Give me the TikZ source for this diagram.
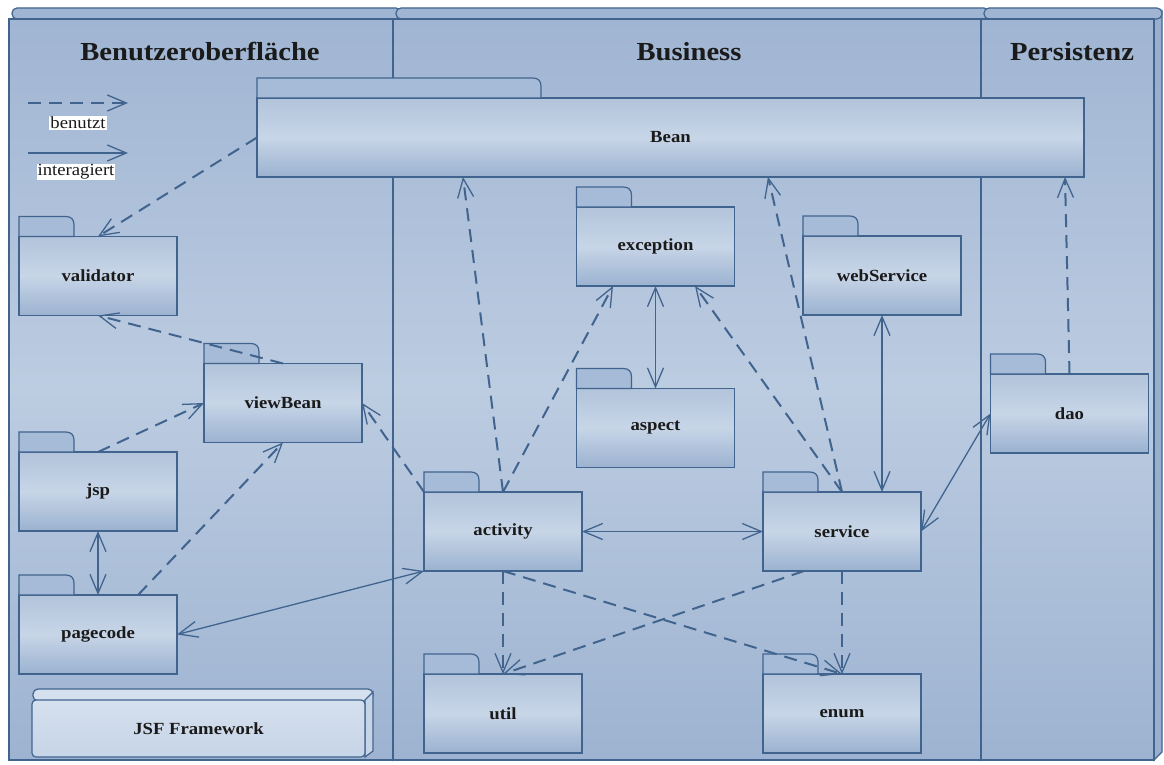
\documentclass[tikz,border=0pt]{standalone}
\usepackage{fontspec}
\setmainfont{Liberation Serif}[FakeStretch=1.1]
\usetikzlibrary{arrows.meta,calc}

\definecolor{edge}{HTML}{41648F}
\definecolor{laneTop}{HTML}{A0B5D3}
\definecolor{laneMid}{HTML}{BCCCE1}
\definecolor{laneBot}{HTML}{9DB3D1}
\definecolor{laneSide}{HTML}{98AFCE}
\definecolor{pkgTop}{HTML}{B2C4DB}
\definecolor{pkgMid}{HTML}{C7D5E7}
\definecolor{pkgBot}{HTML}{9BB2D0}
\definecolor{tabFill}{HTML}{A6BBD7}
\definecolor{jsfTop}{HTML}{D5E0EE}
\definecolor{jsfBot}{HTML}{C6D4E7}
\definecolor{ink}{HTML}{1A1A1A}

\tikzset{
  pkg/.style={draw=edge, line width=1.2pt, top color=pkgTop, bottom color=pkgBot,
    middle color=pkgMid, minimum width=158pt, minimum height=79pt,
    inner sep=0pt, outer sep=0pt, text=ink,
    font=\bfseries\fontsize{17}{20}\selectfont},
  pkgtab/.style={draw=edge, line width=1.2pt, fill=tabFill},
  uses/.style={draw=edge, line width=2pt, dash pattern=on 13pt off 8pt,
    -{Straight Barb[length=19pt,width=16pt,line width=1.3pt]}},
  talks/.style={draw=edge, line width=1.3pt,
    {Straight Barb[length=19pt,width=16pt]}-{Straight Barb[length=19pt,width=16pt]}},
  talkto/.style={draw=edge, line width=1.3pt, -{Straight Barb[length=19pt,width=16pt]}},
  lanetitle/.style={font=\bfseries\fontsize{26}{30}\selectfont, text=ink, inner sep=0pt},
  legendtext/.style={fill=white, inner sep=1pt, text=ink, font=\fontsize{17}{20}\selectfont},
}

% package tab on top of a package node: #1 node name, #2 tab width
\newcommand\pkgtabon[2]{%
  \filldraw[pkgtab] (#1.north west) -- ++(0,-20) -- ++(#2-8,0)
    .. controls +(5,0) and +(0,-5) .. ++(8,8) -- ++(0,12) -- cycle;}

% swim lane drawn as a box with a top face and a right side face
\newcommand\lane[2]{%
  \shade[top color=laneTop, bottom color=laneBot, middle color=laneMid]
    (#1,19) rectangle (#2,760);
  \filldraw[draw=edge, line width=1.2pt, fill=laneSide]
    (#2,19) -- (#2+8,11) -- (#2+8,752) -- (#2,760) -- cycle;
  \filldraw[draw=edge, line width=1.2pt, fill=laneTop, rounded corners=5pt]
    (#1+3,8) rectangle (#2+8,19);
  \draw[edge, line width=1.2pt] (#1,19) rectangle (#2,760);}

\begin{document}
\begin{tikzpicture}[x=1pt, y=-1pt]
\useasboundingbox (0,0) rectangle (1164,765);
\fill[white] (0,0) rectangle (1164,765);

% lanes
\lane{9}{393}
\lane{393}{981}
\lane{981}{1154}

\node[lanetitle] (tUI) at (200,52) {Benutzeroberfläche};
\node[lanetitle] (tBiz) at (689,52) {Business};
\node[lanetitle] (tPer) at (1072,52) {Persistenz};

% legend
\coordinate (lgA1) at (28,103);
\coordinate (lgA2) at (128,103);
\coordinate (lgB1) at (28,153);
\coordinate (lgB2) at (128,153);
\draw[uses] (lgA1) -- (lgA2);
\draw[talkto] (lgB1) -- (lgB2);
\node[legendtext] (lgUses) at (78,123) {benutzt};
\node[legendtext] (lgTalks) at (76,172) {interagiert};

% packages
\node[pkg, minimum width=827pt] (bean) at (670.5,137.5) {Bean};
\pkgtabon{bean}{284}
\node[pkg] (validator) at (98,276) {validator};
\pkgtabon{validator}{55}
\node[pkg] (viewbean) at (283,403) {viewBean};
\pkgtabon{viewbean}{55}
\node[pkg] (jsp) at (98,491.5) {jsp};
\pkgtabon{jsp}{55}
\node[pkg] (pagecode) at (98,634.5) {pagecode};
\pkgtabon{pagecode}{55}
\node[pkg] (exception) at (655.5,246.5) {exception};
\pkgtabon{exception}{55}
\node[pkg] (aspect) at (655.5,428) {aspect};
\pkgtabon{aspect}{55}
\node[pkg] (webservice) at (882,275.5) {webService};
\pkgtabon{webservice}{55}
\node[pkg] (activity) at (503,531.5) {activity};
\pkgtabon{activity}{55}
\node[pkg] (service) at (842,531.5) {service};
\pkgtabon{service}{55}
\node[pkg] (util) at (503,713.5) {util};
\pkgtabon{util}{55}
\node[pkg] (enum) at (842,713.5) {enum};
\pkgtabon{enum}{55}
\node[pkg] (dao) at (1069.5,413.5) {dao};
\pkgtabon{dao}{55}

% JSF framework box
\filldraw[draw=edge, line width=1.2pt, fill=jsfTop, rounded corners=5pt]
  (33,689) rectangle (373,701);
\filldraw[draw=edge, line width=1.2pt, fill=jsfBot]
  (365,700) -- (373,692) -- (373,751) -- (365,757) -- cycle;
\node[draw=edge, line width=1.2pt, top color=jsfTop, bottom color=jsfBot,
  minimum width=333pt, minimum height=57pt, inner sep=0pt, text=ink,
  font=\bfseries\fontsize{17}{20}\selectfont, rounded corners=4pt]
  (jsf) at (198.5,728.5) {JSF Framework};

% dependencies
\draw[uses] (bean.west) -- (validator.north);
\draw[uses] (viewbean.north) -- (validator.south);
\draw[uses] (jsp.north) -- (viewbean.west);
\draw[uses] ([xshift=40pt]pagecode.north) -- (viewbean.south);
\draw[uses] (activity.north west) -- (viewbean.east);
\draw[uses] (activity.north) -- ([xshift=-207.5pt]bean.south);
\draw[uses] (activity.north) -- ([xshift=-42.5pt]exception.south);
\draw[uses] (service.north) -- ([xshift=39.5pt]exception.south);
\draw[uses] (service.north) -- ([xshift=97.5pt]bean.south);
\draw[uses] (dao.north) -- ([xshift=394.5pt]bean.south);
\draw[uses] (activity.south) -- (util.north);
\draw[uses] (activity.south) -- (enum.north);
\draw[uses] (service.south) -- (enum.north);
\draw[uses] ([xshift=-38pt]service.south) -- (util.north);

% interactions
\draw[talks] (jsp.south) -- (pagecode.north);
\draw[talks] (pagecode.east) -- (activity.south west);
\draw[talks] (exception.south) -- (aspect.north);
\draw[talks] (webservice.south) -- ([xshift=40pt]service.north);
\draw[talks] (service.east) -- (dao.west);
\draw[talks] (activity.east) -- (service.west);
\end{tikzpicture}
\end{document}
